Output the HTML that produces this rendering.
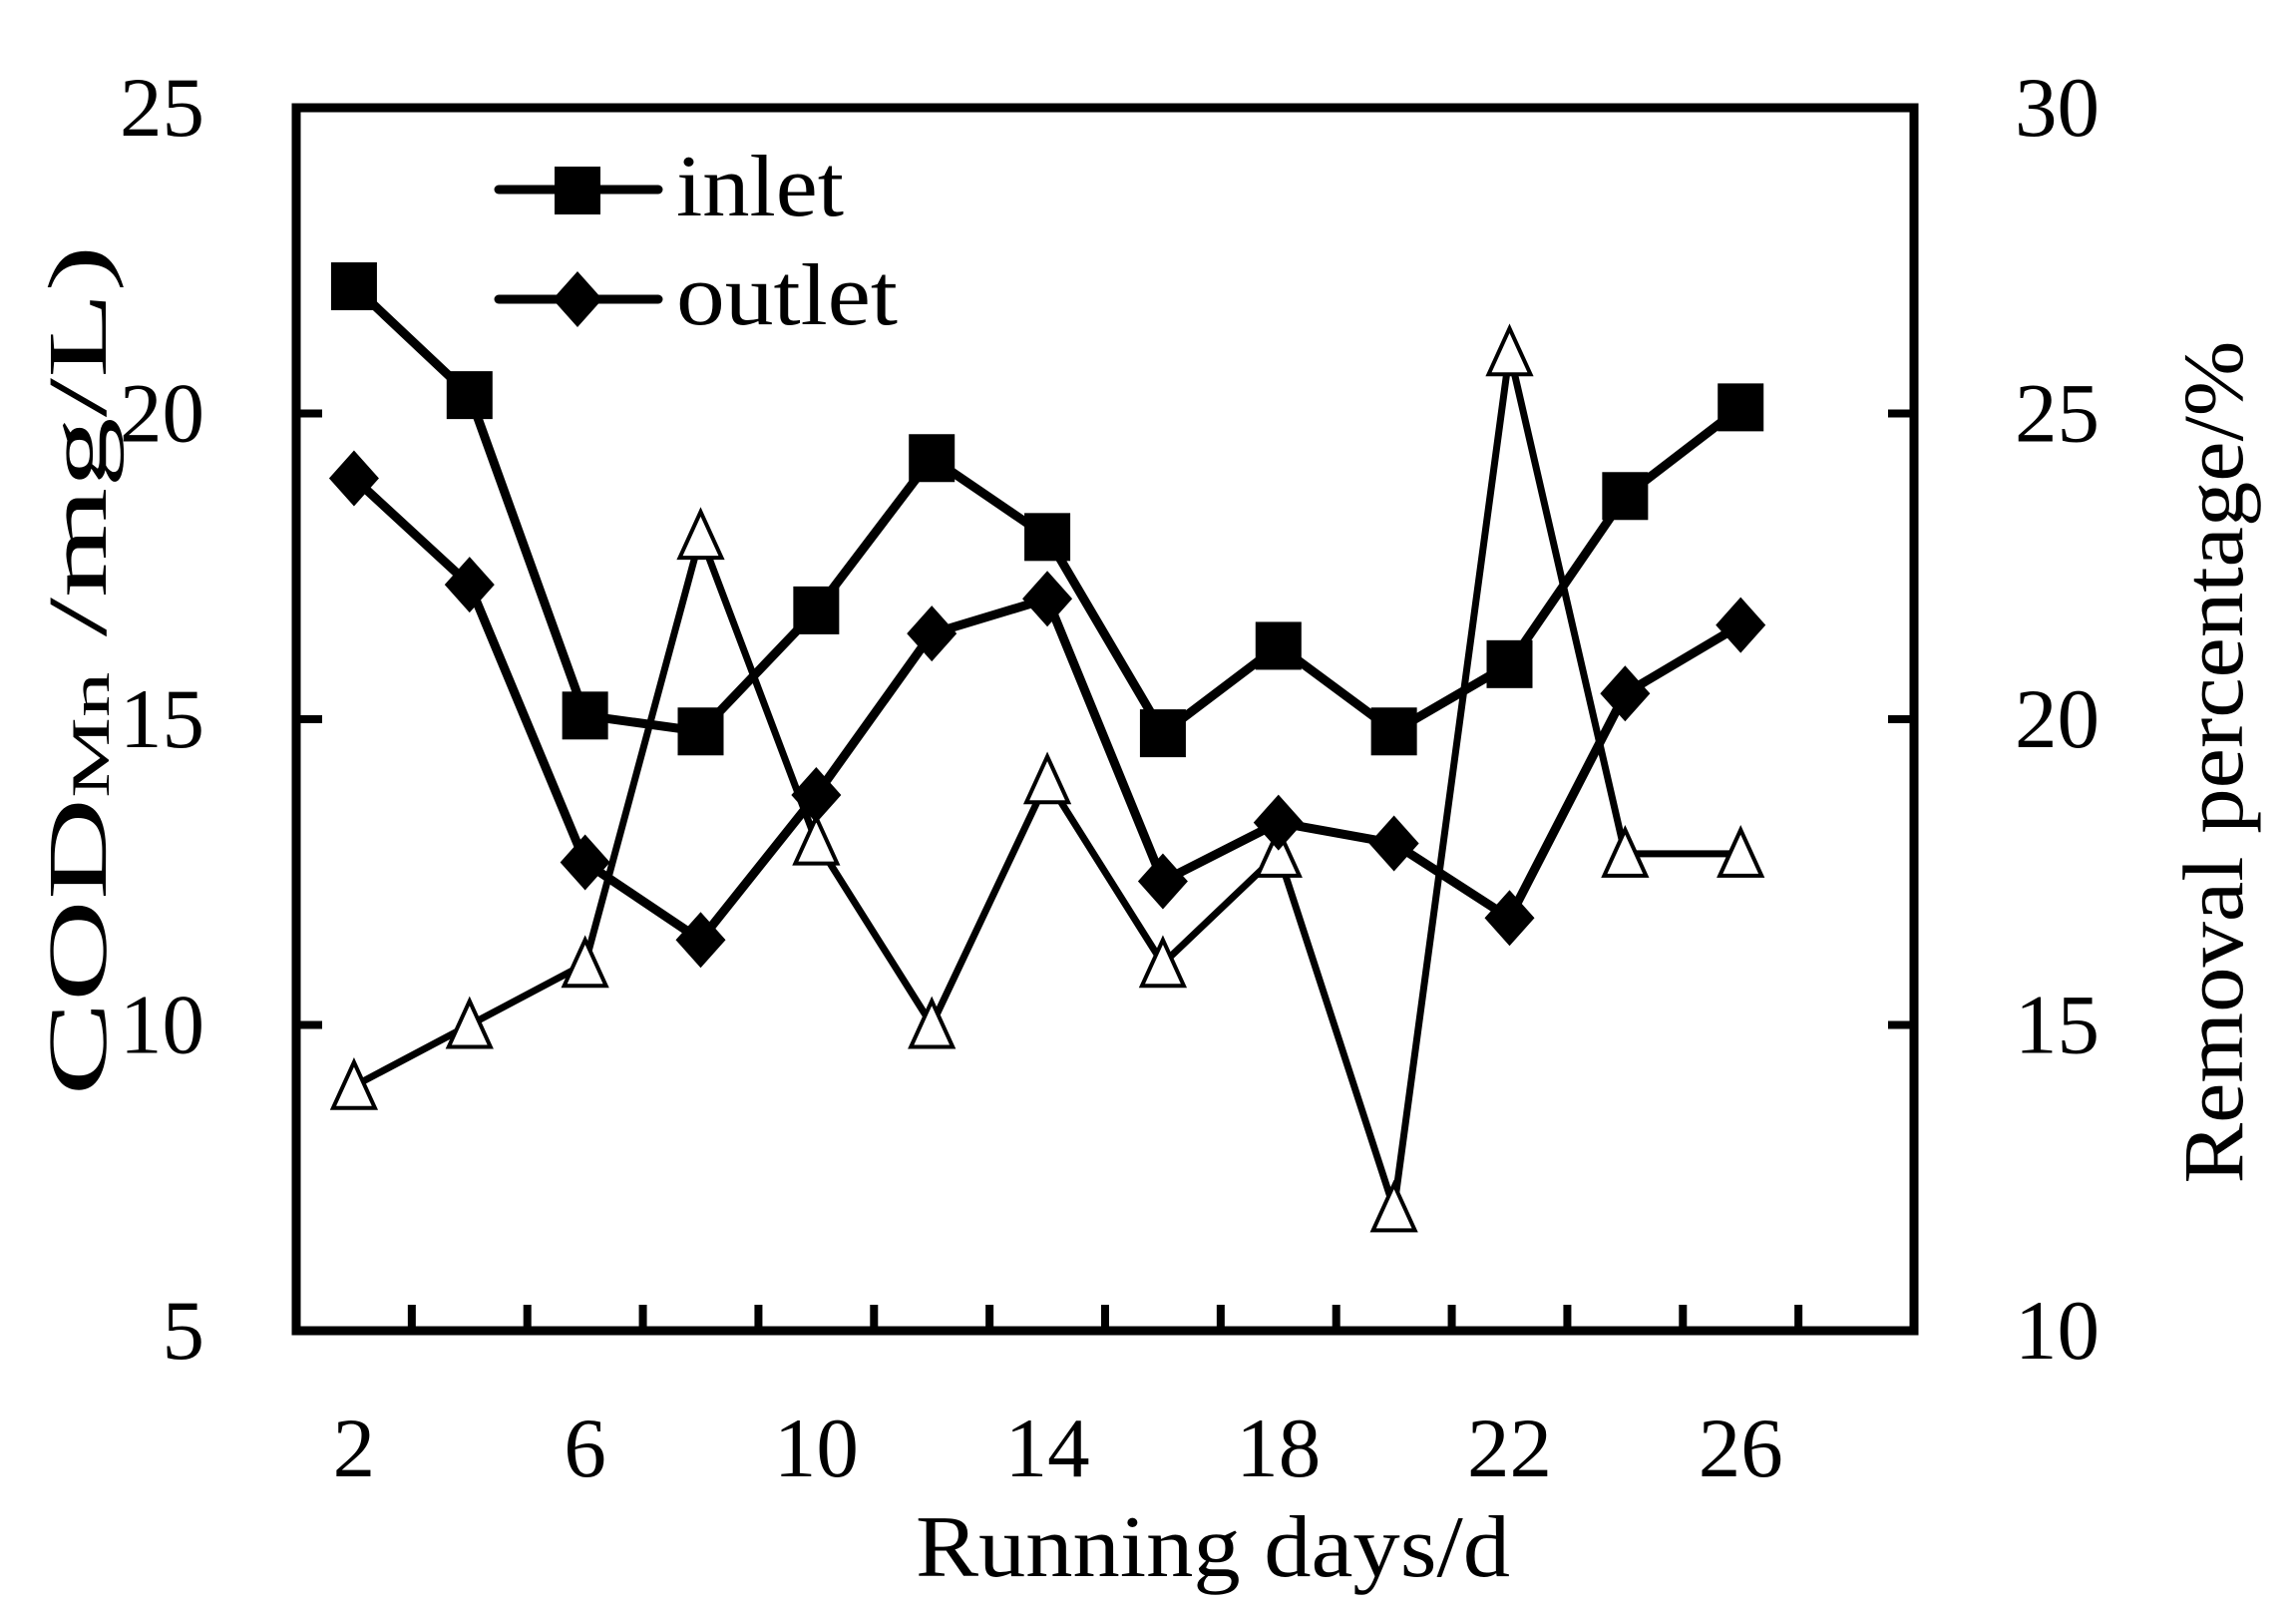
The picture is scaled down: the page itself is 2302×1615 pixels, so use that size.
<!DOCTYPE html>
<html><head><meta charset="utf-8"><style>
html,body{margin:0;padding:0;background:#fff;}
svg{display:block;font-family:"Liberation Serif",serif;}
</style></head><body>
<svg id="chart" width="2302" height="1615" viewBox="0 0 2302 1615" xmlns="http://www.w3.org/2000/svg">
<g id="axes"></g>
<g id="series"></g>
<g id="legend">
  <line x1="500" y1="190" x2="660" y2="190" stroke="#000" stroke-width="9" stroke-linecap="round"/>
  <rect x="556" y="167" width="46" height="48" fill="#000"/>
  <text x="678" y="216" font-size="88" textLength="168" lengthAdjust="spacingAndGlyphs">inlet</text>
  <line x1="500" y1="300" x2="660" y2="300" stroke="#000" stroke-width="9" stroke-linecap="round"/>
  <polygon points="579,272 604,300 579,328 554,300" fill="#000"/>
  <text x="678" y="325" font-size="88" textLength="222" lengthAdjust="spacingAndGlyphs">outlet</text>
</g>
<text x="1216" y="1580" font-size="88" text-anchor="middle" textLength="596" lengthAdjust="spacingAndGlyphs">Running days/d</text>
<text transform="translate(106,672) rotate(-90)" font-size="84" text-anchor="middle" textLength="853" lengthAdjust="spacingAndGlyphs">COD<tspan font-size="54" dy="3">Mn</tspan><tspan dy="-3"> /mg/L)</tspan></text>
<text transform="translate(2248,764) rotate(-90)" font-size="86" text-anchor="middle" textLength="845" lengthAdjust="spacingAndGlyphs">Removal percentage/%</text>
</svg>
<script>
const days = [2,4,6,8,10,12,14,16,18,20,22,24,26];
const inlet = [22.08,20.3,15.06,14.8,16.78,19.27,17.98,14.77,16.2,14.8,15.9,18.65,20.1];
const outlet = [18.94,17.2,12.66,11.39,13.76,16.4,16.97,12.35,13.31,12.97,11.75,15.42,16.54];
const removal = [14,15,16,23,18,15,19,16,17.8,12,26,17.8,17.8];
const xTickLabels = [2,6,10,14,18,22,26];
const yTickLabels = [5,10,15,20,25];
const y2TickLabels = [10,15,20,25,30];

const L=297,R=1919,T=108,B=1334;
const xDom=[1,29], yDom=[5,25], y2Dom=[10,30];
const sx=d=>L+(d-xDom[0])/(xDom[1]-xDom[0])*(R-L);
const sy=v=>B-(v-yDom[0])/(yDom[1]-yDom[0])*(B-T);
const sy2=v=>B-(v-y2Dom[0])/(y2Dom[1]-y2Dom[0])*(B-T);
const NS="http://www.w3.org/2000/svg";
function mk(tag,attrs,parent){const e=document.createElementNS(NS,tag);for(const k in attrs)e.setAttribute(k,attrs[k]);parent.appendChild(e);return e;}
const axes=document.getElementById('axes');
const series=document.getElementById('series');

const frame=mk('rect',{x:L,y:T,width:R-L,height:B-T,fill:'none',stroke:'#000','stroke-width':9},axes);


for(let d=3;d<=27;d+=2){
  const t=mk('line',{x1:sx(d),x2:sx(d),y1:B,y2:B-26,stroke:'#000','stroke-width':8},axes);
  
  
}
xTickLabels.forEach(v=>{
  const t=mk('text',{x:sx(v),y:1480,'font-size':85,'text-anchor':'middle'},axes);t.textContent=v;
  
  
});
yTickLabels.forEach(v=>{
  if(v>yDom[0]&&v<yDom[1]){const k=mk('line',{x1:L,x2:L+26,y1:sy(v),y2:sy(v),stroke:'#000','stroke-width':8},axes);
  
  }
  const t=mk('text',{x:205,y:sy(v)+28,'font-size':85,'text-anchor':'end'},axes);t.textContent=v;
  
  
});
y2TickLabels.forEach(v=>{
  if(v>y2Dom[0]&&v<y2Dom[1]){const k=mk('line',{x1:R-26,x2:R,y1:sy2(v),y2:sy2(v),stroke:'#000','stroke-width':8},axes);
  
  }
  const t=mk('text',{x:2020,y:sy2(v)+28,'font-size':85,'text-anchor':'start'},axes);t.textContent=v;
  
  
});

const rl=mk('polyline',{points:days.map((d,i)=>sx(d)+','+sy2(removal[i])).join(' '),fill:'none',stroke:'#000','stroke-width':7},series);


const il=mk('polyline',{points:days.map((d,i)=>sx(d)+','+sy(inlet[i])).join(' '),fill:'none',stroke:'#000','stroke-width':9},series);


const ol=mk('polyline',{points:days.map((d,i)=>sx(d)+','+sy(outlet[i])).join(' '),fill:'none',stroke:'#000','stroke-width':9},series);



days.forEach((d,i)=>{
  const x=sx(d),y=sy2(removal[i]);
  const p=mk('polygon',{points:`${x},${y-24} ${x+21},${y+22} ${x-21},${y+22}`,fill:'#fff',stroke:'#000','stroke-width':4},series);
  
  
});
days.forEach((d,i)=>{
  const x=sx(d),y=sy(inlet[i]);
  const r=mk('rect',{x:x-23,y:y-24,width:46,height:48,fill:'#000'},series);
  
  
});
days.forEach((d,i)=>{
  const x=sx(d),y=sy(outlet[i]);
  const p=mk('polygon',{points:`${x},${y-28} ${x+25},${y} ${x},${y+28} ${x-25},${y}`,fill:'#000'},series);
  
  
});
</script>
</body></html>
